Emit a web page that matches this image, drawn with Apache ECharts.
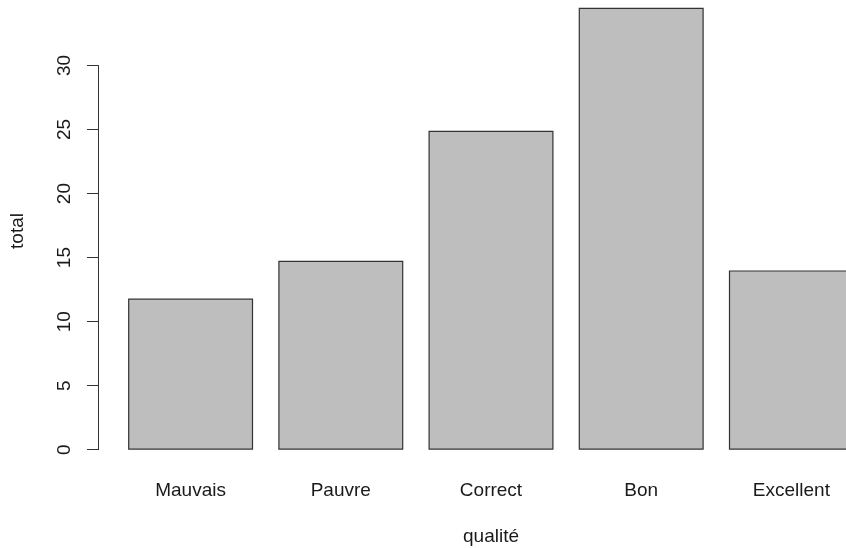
<!DOCTYPE html>
<html>
<head>
<meta charset="utf-8">
<script src="https://cdn.jsdelivr.net/npm/echarts@6/dist/echarts.min.js"></script>
<style>
html,body{margin:0;padding:0;background:#fff;}
#main{width:846px;height:548px;}
</style>
</head>
<body>
<div id="main"></div>
<script>
const categories = ['Mauvais', 'Pauvre', 'Correct', 'Bon', 'Excellent'];
const totals = [11.8, 14.75, 24.9, 34.5, 14.0];
const yTicks = [0, 5, 10, 15, 20, 25, 30];
const xTitle = 'qualité';
const yTitle = 'total';

const FONT = '"Liberation Sans", Arial, Helvetica, sans-serif';
const chart = echarts.init(document.getElementById('main'));
chart.setOption({
  animation: false,
  backgroundColor: '#ffffff',
  grid: { left: 115.5, width: 751, top: 65.5, height: 384.2, containLabel: false, outerBoundsMode: 'none' },
  xAxis: {
    type: 'category',
    data: categories,
    axisLine: { show: false },
    axisTick: { show: false },
    axisLabel: { margin: 32, fontSize: 19, color: '#1a1a1a', fontFamily: FONT },
    name: xTitle,
    nameLocation: 'middle',
    nameGap: 78,
    nameTextStyle: { fontSize: 19, color: '#1a1a1a', fontFamily: FONT }
  },
  yAxis: {
    type: 'value',
    min: yTicks[0],
    max: yTicks[yTicks.length - 1],
    interval: 5,
    offset: 17.5,
    splitLine: { show: false },
    axisLine: { show: true, lineStyle: { color: '#333', width: 1 } },
    axisTick: { show: true, length: 11, lineStyle: { color: '#333', width: 1 } },
    axisLabel: { rotate: 90, margin: 24, fontSize: 19, color: '#1a1a1a', fontFamily: FONT }
  },
  graphic: [{
    type: 'text',
    x: 18, y: 231,
    rotation: Math.PI / 2,
    style: { text: yTitle, fontSize: 19, fill: '#1a1a1a', fontFamily: FONT, align: 'center', verticalAlign: 'middle' }
  }],
  series: [{
    type: 'bar',
    data: totals,
    barWidth: 125,
    clip: false,
    itemStyle: { color: '#bebebe', borderColor: '#333', borderWidth: 1.2 }
  }]
});
</script>
</body>
</html>
